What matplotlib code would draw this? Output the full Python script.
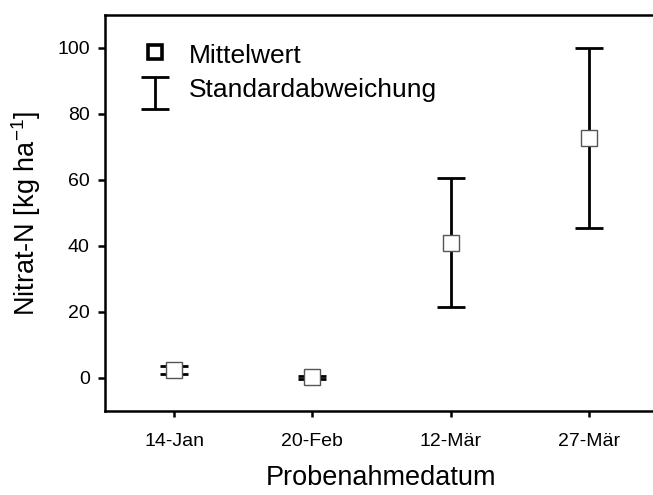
import matplotlib
matplotlib.use("Agg")
import matplotlib.pyplot as plt

plt.rcParams['font.family'] = ['Liberation Sans', 'DejaVu Sans']

dates = ["14-Jan", "20-Feb", "12-Mär", "27-Mär"]
mean_values = [2.4, 0.2, 41.0, 72.8]
std_values = [1.3, 0.5, 19.6, 27.2]
y_ticks = [0, 20, 40, 60, 80, 100]

fig = plt.figure(figsize=(6.53, 4.95), dpi=100)
ax = fig.add_axes([105 / 653, 84 / 495, 553 / 653, 396 / 495])

x = list(range(1, len(dates) + 1))
ax.errorbar(x, mean_values, yerr=std_values, fmt='none', ecolor='black',
            elinewidth=2, capsize=9.8, capthick=2, zorder=2)
ax.plot(x, mean_values, linestyle='none', marker='s', markersize=11.5,
        markerfacecolor='white', markeredgecolor='#555555',
        markeredgewidth=1, zorder=3)

ax.set_xlim(0.5, 4.5)
ax.set_ylim(-10, 110)
ax.set_xticks(x)
ax.set_xticklabels(dates, fontsize=14)
ax.set_yticks(y_ticks)
ax.set_yticklabels([str(v) for v in y_ticks], fontsize=14)
ax.tick_params(axis='both', direction='out', width=1.8, color='black')
ax.tick_params(axis='x', length=4, pad=12)
ax.tick_params(axis='y', length=5, pad=6)

for side in ['left', 'bottom', 'top', 'right']:
    ax.spines[side].set_linewidth(1.8)

ax.set_ylabel("Nitrat-N [kg ha$^{\\mathregular{-1}}$]", fontsize=19.5)
ax.yaxis.set_label_coords(-0.113, 0.5)
ax.set_xlabel("Probenahmedatum", fontsize=19.5, va='baseline')
ax.xaxis.set_label_coords(0.5, -0.187)

# legend: open square for the mean, I-beam for the standard deviation
ax.plot([0.859], [98.8], marker='s', markersize=10, markerfacecolor='white',
        markeredgecolor='black', markeredgewidth=2.6, linestyle='none')
ax.text(1.105, 95.4, "Mittelwert", fontsize=19, va='baseline', ha='left')
ax.errorbar([0.859], [86.3], yerr=[[4.8], [4.8]], fmt='none', ecolor='black',
            elinewidth=2, capsize=10, capthick=2)
ax.text(1.105, 85.1, "Standardabweichung", fontsize=19, va='baseline', ha='left')

fig.savefig("out.png", dpi=100)
